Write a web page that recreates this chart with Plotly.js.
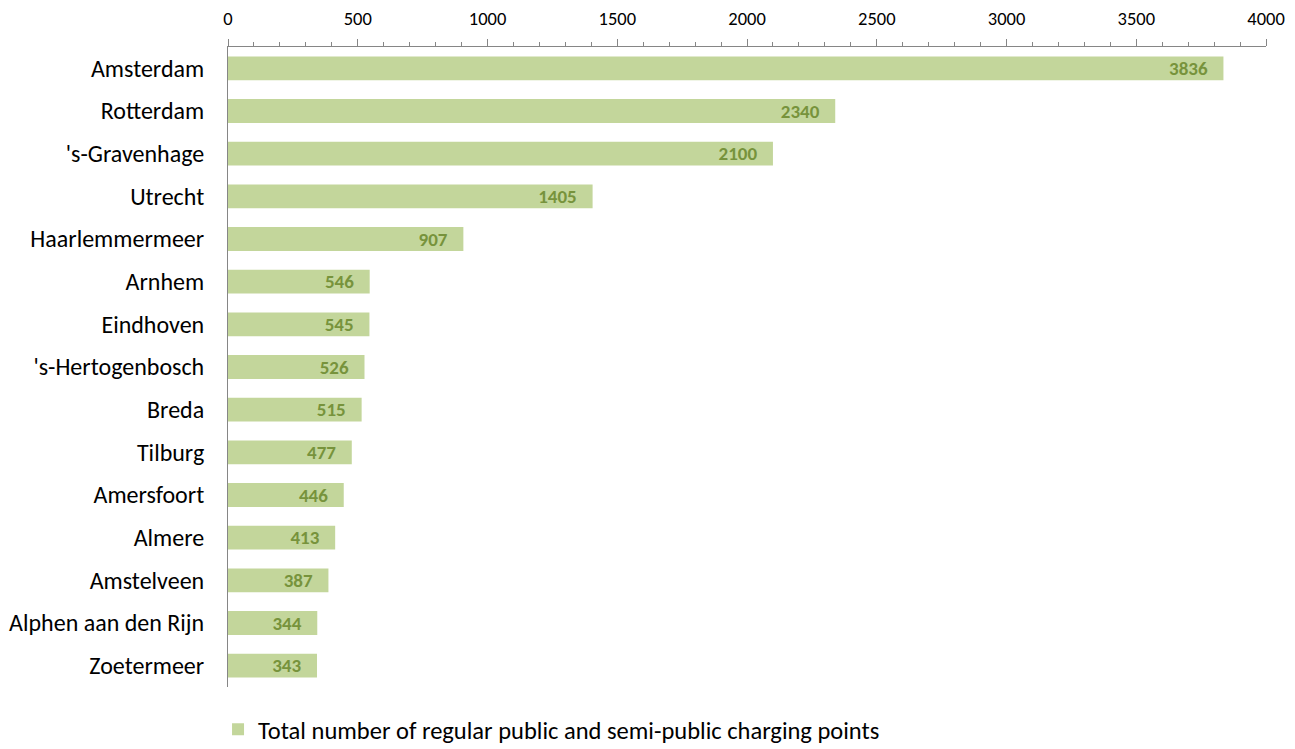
<!DOCTYPE html>
<html>
<head>
<meta charset="utf-8">
<script src="https://cdn.plot.ly/plotly-3.0.1.min.js"></script>
<style>html,body{margin:0;padding:0;background:#fff;}#chart{width:1295px;height:749px;}</style>
</head>
<body>
<div id="chart"></div>
<script>
const cities = ["Amsterdam", "Rotterdam", "'s-Gravenhage", "Utrecht", "Haarlemmermeer", "Arnhem", "Eindhoven", "'s-Hertogenbosch", "Breda", "Tilburg", "Amersfoort", "Almere", "Amstelveen", "Alphen aan den Rijn", "Zoetermeer"];
const chargingPoints = [3836, 2340, 2100, 1405, 907, 546, 545, 526, 515, 477, 446, 413, 387, 344, 343];
const seriesName = "Total number of regular public and semi-public charging points";
const tickValues = [0, 500, 1000, 1500, 2000, 2500, 3000, 3500, 4000];

const font = "Calibri, Carlito, Lato, 'Open Sans', sans-serif";

const trace = {
  type: 'bar',
  orientation: 'h',
  x: chargingPoints,
  y: cities,
  name: seriesName,
  marker: {color: '#c3d69b'},
  width: 0.56,
  texttemplate: '<b>%{x}</b>\u00a0\u00a0\u00a0',
  textposition: 'inside',
  insidetextanchor: 'end',
  insidetextfont: {family: font, size: 19, color: '#77933c'},
  constraintext: 'none',
  cliponaxis: false,
  hoverinfo: 'x+y',
  showlegend: true
};

const layout = {
  width: 1295,
  height: 749,
  margin: {l: 228, r: 29, t: 47, b: 62, autoexpand: false},
  paper_bgcolor: '#ffffff',
  plot_bgcolor: '#ffffff',
  font: {family: font, color: '#000000'},
  showlegend: true,
  xaxis: {
    side: 'top',
    range: [0, 4000],
    tickvals: tickValues,
    ticktext: tickValues.map(String),
    ticks: 'outside',
    ticklen: 7,
    tickwidth: 1,
    tickcolor: '#868686',
    ticklabelstandoff: 7,
    minor: {dtick: 100, ticks: 'outside', ticklen: 4, tickcolor: '#868686', showgrid: false},
    showline: true,
    linecolor: '#868686',
    linewidth: 1,
    showgrid: false,
    zeroline: false,
    tickfont: {family: font, size: 18.5, color: '#000000'},
    fixedrange: true
  },
  yaxis: {
    autorange: 'reversed',
    showline: true,
    linecolor: '#868686',
    linewidth: 1,
    ticks: '',
    showgrid: false,
    ticklabelstandoff: 18,
    tickfont: {family: font, size: 24, color: '#000000'},
    fixedrange: true
  },
  legend: {
    orientation: 'h',
    x: -0.0096,
    xanchor: 'left',
    y: -0.066,
    yanchor: 'middle',
    font: {family: font, size: 24.5, color: '#000000'},
    itemwidth: 30,
    bgcolor: 'rgba(0,0,0,0)'
  },
  bargap: 0.44
};

Plotly.newPlot('chart', [trace], layout, {displayModeBar: false, staticPlot: true});
</script>
</body>
</html>
